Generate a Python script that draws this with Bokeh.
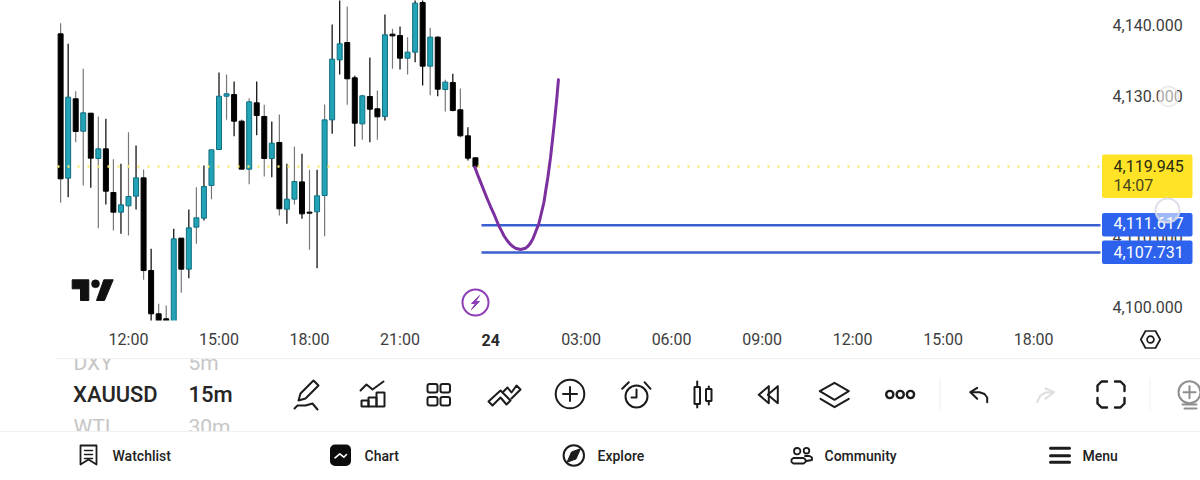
from bokeh.plotting import figure
from bokeh.embed import file_html
from bokeh.resources import INLINE
from bokeh.core.properties import value
from bokeh.models import (Range1d, LinearAxis, FixedTicker, NumeralTickFormatter, Label,
                          BoxAnnotation)

# ---- data ----
bar_hours = [9.75 + 0.25 * i for i in range(56)]   # 15m bars
opens = [4138.79,4118.29,4129.56,4124.96,4127.52,4121.08,4122.45,4116.25,4113.46,4114.36,4115.73,4118.33,4105.17,4099.02,4098.31,4094.28,4109.77,4105.36,4111.33,4112.61,4117.25,4122.36,4129.93,4130.17,4126.39,4119.57,4128.99,4127.05,4121.08,4123.36,4113.88,4115.31,4117.76,4113.46,4113.51,4115.83,4126.57,4135.09,4137.56,4132.54,4126.00,4129.89,4128.14,4127.05,4138.74,4138.55,4135.33,4136.19,4143.24,4134.20,4138.32,4130.88,4131.88,4128.00,4124.30,4121.18]
highs = [4140.31,4137.37,4130.65,4133.82,4127.52,4127.05,4126.71,4120.99,4120.32,4124.82,4122.93,4119.52,4108.25,4100.44,4100.20,4111.09,4109.77,4113.84,4117.01,4120.09,4122.31,4133.30,4133.01,4132.02,4126.62,4129.65,4132.02,4128.70,4126.34,4127.33,4120.32,4122.79,4121.74,4119.47,4119.47,4128.75,4140.12,4144.47,4142.67,4132.82,4130.12,4135.43,4130.74,4141.54,4139.50,4139.83,4138.32,4144.47,4144.47,4139.64,4138.41,4132.26,4133.11,4131.03,4125.53,4121.18]
lows = [4114.78,4115.59,4123.40,4117.25,4116.91,4111.19,4114.55,4110.85,4110.38,4110.14,4113.84,4103.85,4096.65,4094.28,4096.17,4093.50,4102.00,4104.08,4108.96,4112.27,4115.31,4122.36,4126.57,4124.25,4119.57,4117.43,4124.40,4118.52,4118.43,4112.98,4111.80,4114.55,4112.51,4108.11,4105.50,4110.05,4124.59,4133.01,4128.70,4122.79,4123.73,4123.40,4123.73,4126.48,4133.82,4133.73,4133.01,4134.77,4131.45,4130.08,4129.93,4127.76,4127.81,4124.06,4120.80,4119.90]
closes = [4118.19,4129.79,4124.92,4127.57,4121.13,4122.45,4116.44,4113.46,4114.50,4115.68,4118.33,4105.17,4099.02,4095.70,4097.83,4109.67,4105.36,4111.23,4112.65,4117.10,4122.31,4129.93,4130.27,4126.39,4119.57,4129.13,4127.19,4121.08,4123.26,4113.93,4115.31,4117.81,4113.22,4113.32,4115.78,4126.57,4135.19,4137.37,4132.40,4126.10,4129.98,4128.09,4127.00,4138.65,4138.50,4135.33,4136.19,4143.15,4134.20,4138.32,4130.93,4131.93,4127.90,4124.30,4121.13,4119.90]
wick_gray = [0,2,3,5,7,9,11,13,14,16,18,20,22,24,25,27,29,31,33,35,38,40,42,44,46,49,51,53]

current_price = 4119.945
level_upper = 4111.617
level_lower = 4107.731
price_ticks = [4100, 4110, 4120, 4130, 4140]
hour_ticks = [12, 15, 18, 21, 24, 27, 30, 33, 36, 39, 42]
hour_labels = ["12:00", "15:00", "18:00", "21:00", " ", "03:00", "06:00", "09:00", "12:00", "15:00", "18:00"]

curve_hours = [23.48,23.57,23.67,23.89,24.00,24.11,24.27,24.36,24.44,24.55,24.66,24.74,24.83,24.99,25.16,25.24,25.32,25.41,25.49,25.60,25.69,25.77,25.83,25.90,25.99,26.10,26.19,26.25]
curve_price = [4119.85,4118.80,4117.72,4115.36,4114.26,4113.23,4111.57,4110.83,4110.14,4109.43,4108.87,4108.58,4108.34,4108.16,4108.34,4108.62,4109.05,4109.72,4110.61,4111.81,4113.41,4114.87,4116.54,4118.42,4121.27,4125.53,4129.32,4132.26]

TEAL = "#22a3b6"
TEAL_EDGE = "#0f6f80"
BLUE = "#2c62ee"
LINE_BLUE = "#3a5fd0"
YELLOW = "#ffe327"
PURPLE = "#7c2f9f"
TXT = "#3d3d3d"
INK = "#1c1c1c"
ROBOTO = "Roboto"
MEDIUM = "Roboto Medium"

W, H = 1200, 480

def hx(px):
    return 12 + (px - 128) / 30.17

def py(y):
    return current_price - (y - 166) / 7.04

x_end = hx(1100)
# the frame fills the whole canvas; the axes are fixed inside it
p = figure(width=W, height=H, output_backend="svg", toolbar_location=None,
           x_range=Range1d(hx(0), hx(W)), y_range=Range1d(py(H), py(0)),
           x_axis_location=None, y_axis_location=None, min_border=0,
           background_fill_color="white", border_fill_color="white")
p.extra_x_ranges = {"px": Range1d(0, W)}
p.extra_y_ranges = {"px": Range1d(H, 0)}
PX = dict(x_range_name="px", y_range_name="px")
p.outline_line_color = None
p.grid.visible = False

# candles
wick_cols = ["#787878" if i in wick_gray else "#000000" for i in range(len(opens))]
p.segment(bar_hours, highs, bar_hours, lows, line_color=wick_cols, line_width=1.2)
tops = [max(o, c) for o, c in zip(opens, closes)]
bots = [min(o, c) for o, c in zip(opens, closes)]
fills = [TEAL if c > o else "#000000" for o, c in zip(opens, closes)]
edges = [TEAL_EDGE if c > o else "#000000" for o, c in zip(opens, closes)]
p.vbar(bar_hours, 0.165, tops, bots, fill_color=fills, line_color=edges, line_width=1)

def pl(xs, ys, col=INK, w=2):
    p.line(xs, ys, line_color=col, line_width=w, line_join="round", line_cap="round", **PX)

def circ(x, y, r, col=INK, w=2, fill=None):
    p.circle([x], [y], radius=r, fill_color=fill, line_color=col, line_width=w, **PX)

def label(txt, x, y, size, col=INK, font=ROBOTO, style="normal"):
    p.text([x], [y], text=[txt], text_font=value(font), text_font_size=size, text_color=col,
           text_font_style=style, text_baseline="middle", text_align="left", **PX)

# faded picker rows, cut by the panes above and below
FADE = "#c6c6c6"
label("DXY", 73, 362, "21px", FADE)
label("5m", 188, 362, "21px", FADE)
label("WTI", 73, 426, "21px", FADE)
label("30m", 188, 426, "21px", FADE)
p.quad(left=[0], right=[W], top=[320], bottom=[358], fill_color="white", line_color=None, **PX)
p.quad(left=[0], right=[W], top=[431], bottom=[H], fill_color="white", line_color=None, **PX)
pl([56, W], [358, 358], "#efefef", 1)
pl([0, W], [431, 431], "#efefef", 1)

# axes, fixed inside the frame
xa = LinearAxis(ticker=FixedTicker(ticks=hour_ticks), fixed_location=py(320),
                major_label_overrides=dict(zip(hour_ticks, hour_labels)))
ya = LinearAxis(ticker=FixedTicker(ticks=price_ticks), fixed_location=x_end,
                formatter=NumeralTickFormatter(format="0,0.000"))
for ax in (xa, ya):
    ax.axis_line_color = None
    ax.major_tick_line_color = None
    ax.minor_tick_line_color = None
    ax.major_label_text_font = ROBOTO
    ax.major_label_text_font_size = "16px"
    ax.major_label_text_color = TXT
xa.major_label_standoff = 3
ya.major_label_standoff = 6
p.add_layout(xa, "below")
p.add_layout(ya, "right")

# price lines and the drawn curve
p.line([hx(57), x_end], [current_price] * 2, line_color="#f6e96e", line_width=2.5, line_dash="2 8")
p.line([hx(481), x_end], [level_upper] * 2, line_color=LINE_BLUE, line_width=2.5)
p.line([hx(481), x_end], [level_lower] * 2, line_color=LINE_BLUE, line_width=2.5)
p.line(curve_hours, curve_price, line_color=PURPLE, line_width=3, line_join="round", line_cap="round")

# TradingView logo
p.patch([71.7, 88.3, 88.3, 80, 80, 71.7], [279.3, 279.3, 300, 300, 288.3, 288.3], color="#111111", **PX)
p.patch([103.3, 112.7, 104, 96], [279.3, 279.3, 300, 300], color="#111111", **PX)
circ(95, 283.3, 4, "#111111", 0.5, "#111111")
# lightning badge
circ(475, 302, 13, "#8e3fb5", 2)
p.patch([479, 471, 475, 471, 479, 475], [295, 303, 303, 309, 301, 301], fill_color="#8e3fb5", line_color="#8e3fb5", line_width=1, **PX)

# price tags
def tag(y0, y1, col):
    p.add_layout(BoxAnnotation(left=1101.5, right=1192, top=y0, bottom=y1, x_range_name="px", y_range_name="px",
                               fill_color=col, fill_alpha=1, line_color=None, border_radius=2))

def tag_text(txt, y, col):
    p.add_layout(Label(x=1113, y=y, text=txt, text_font=ROBOTO, text_font_size="16px", text_color=col,
                       text_baseline="middle", text_align="left", x_range_name="px", y_range_name="px"))

tag(154, 197.5, YELLOW)
tag_text("{:,.3f}".format(current_price), 165, "#2b2b10")
tag_text("14:07", 185, "#4a4620")
tag(212.5, 236, BLUE)
tag(240, 263.5, BLUE)
tag_text("{:,.3f}".format(level_upper), 222.5, "white")
tag_text("{:,.3f}".format(level_lower), 251, "white")

def ring(cx, cy, r, line, falpha, lalpha, lw):
    p.add_layout(BoxAnnotation(left=cx - r, right=cx + r, top=cy - r, bottom=cy + r, x_range_name="px", y_range_name="px",
                               fill_color="white", fill_alpha=falpha, line_color=line, line_alpha=lalpha,
                               line_width=lw, border_radius=r))

ring(1167, 210, 12, "#d8dce8", 0.55, 0.9, 2)
ring(1168, 96, 10, "#e4e4e4", 0.55, 0.8, 1.5)

# settings hexagon
pl([1140.3, 1145, 1155, 1159.7, 1155, 1145, 1140.3], [339, 330.5, 330.5, 339, 347.5, 347.5, 339], INK, 1.7)
circ(1150, 339, 3.4, INK, 1.7)
label("24", 481, 339, "16px", "#2a2a2a", ROBOTO, "bold")

# picker
label("XAUUSD", 72.5, 394, "22px", "#262626", MEDIUM)
label("15m", 188, 394, "22px", "#262626", MEDIUM)

# pencil
pl([298, 300, 313, 318, 305, 298], [400, 393, 380, 385, 398, 400])
pl([294, 297, 305, 312, 317], [408, 405, 405, 403, 409])
# indicators
pl([360, 366, 372, 383], [390, 384, 389, 381])
p.quad(left=[361, 368, 376], right=[368, 376, 384], top=[400, 397, 392], bottom=[406, 406, 406],
       fill_color=None, line_color=INK, line_width=2, **PX)
# grid
p.quad(left=[427, 440, 427, 440], right=[437, 449.5, 437, 449.5], top=[383.5, 383.5, 396.5, 396.5],
       bottom=[392, 392, 405, 405], fill_color=None, line_color=INK, line_width=2, border_radius=2, **PX)
# chevrons
pl([488, 500, 510, 506, 500, 492, 488], [401, 390, 400, 404, 397, 405, 401])
pl([503, 507, 511, 516, 520, 511], [391, 387, 392, 385, 389, 398])
# plus
circ(569.5, 393.5, 14.3)
pl([562.5, 576.5], [393.5, 393.5])
pl([569.5, 569.5], [386.5, 400.5])
# alarm
circ(636, 396, 11)
pl([636, 636, 631], [389, 397, 397])
pl([621.7, 628.3], [388.3, 381.7])
pl([644, 650], [381.7, 388.3])
# candles icon
pl([696.7, 696.7], [381, 407])
p.quad(left=[694], right=[699.5], top=[386.5], bottom=[403.5], fill_color="white", line_color=INK, line_width=2, **PX)
pl([708.3, 708.3], [386, 404])
p.quad(left=[705.5], right=[711], top=[388.5], bottom=[400.5], fill_color="white", line_color=INK, line_width=2, **PX)
# rewind
pl([768.3, 758.3, 768.3, 768.3], [385.7, 394.3, 402.7, 385.7])
pl([777.3, 767.3, 777.3, 777.3], [385.7, 394.3, 402.7, 385.7])
# layers
pl([819.3, 834, 848.3, 834, 819.3], [390.7, 382.3, 390.7, 399.3, 390.7])
pl([820, 834, 848.3], [398.3, 406.7, 398.3])
# dots
for cx in (889.3, 899.7, 910):
    circ(cx, 394, 3.6, INK, 2.4)
pl([939.5, 939.5], [378, 410], "#efefef", 1)
# undo
pl([976.7, 970, 976.7], [387.3, 391.7, 398.3])
pl([970, 979, 984, 986.7, 986.7], [391.7, 391.7, 393.5, 397, 401.7])
# redo
pl([1045, 1053.3, 1045], [388, 391.7, 398.3], "#dddddd")
pl([1053.3, 1045, 1040, 1036.7], [391.7, 392, 395, 401.7], "#dddddd")
# fullscreen
pl([1097, 1097, 1101, 1106.5], [390.5, 385, 381, 381], INK, 2.4)
pl([1114.5, 1120, 1124, 1124], [381, 381, 385, 390.5], INK, 2.4)
pl([1097, 1097, 1101, 1106.5], [397.5, 403, 407, 407], INK, 2.4)
pl([1114.5, 1120, 1124, 1124], [407, 407, 403, 397.5], INK, 2.4)
pl([1149.5, 1149.5], [378, 410], "#efefef", 1)
# bulb
circ(1189, 391.7, 11, "#8f8f8f", 2)
pl([1183, 1195], [391.7, 391.7], "#8f8f8f", 2)
pl([1189, 1189], [385.7, 397.7], "#8f8f8f", 2)
pl([1182, 1196], [404, 404], "#8f8f8f", 2)
pl([1184, 1196], [408, 408], "#8f8f8f", 2)

# nav: watchlist
pl([80, 96, 96, 88, 80, 80], [445, 445, 464, 459, 464, 445], INK, 1.8)
for yy in (450, 454, 458):
    pl([84, 92], [yy, yy], INK, 1.5)
label("Watchlist", 112, 455.5, "14px", "#222222", MEDIUM)
# nav: chart
p.quad(left=[329.5], right=[350.5], top=[444], bottom=[465.5], fill_color="#0c0c0c", line_color=None, border_radius=5, **PX)
pl([334.5, 339.3, 343.3, 346], [457.3, 453.3, 456.7, 454], "white", 1.6)
label("Chart", 364, 455.5, "14px", "#222222", MEDIUM)
# nav: explore
circ(573.3, 455, 10.2, INK, 2)
p.patch([566.5, 571, 580, 575.5], [461.8, 451.5, 448.2, 458.5], fill_color=INK, line_color=INK, **PX)
label("Explore", 597, 455.5, "14px", "#222222", MEDIUM)
# nav: community
circ(796.7, 450.7, 3.2, INK, 1.8)
circ(806, 450.2, 2.8, INK, 1.8)
pl([793, 803, 805, 805, 803, 793, 791, 791, 793], [457.5, 457.5, 459, 461.5, 463, 463, 461.5, 459, 457.5], INK, 1.8)
pl([804.5, 809, 811.5, 811.5, 806], [455.5, 455.5, 457, 459.5, 460.5], INK, 1.8)
label("Community", 824, 455.5, "14px", "#222222", MEDIUM)
# nav: menu
for yy in (447.7, 455.2, 461.7):
    pl([1050, 1069], [yy, yy], INK, 3)
label("Menu", 1082, 455.5, "14px", "#222222", MEDIUM)

open("out.html", "w").write(file_html(p, INLINE))
